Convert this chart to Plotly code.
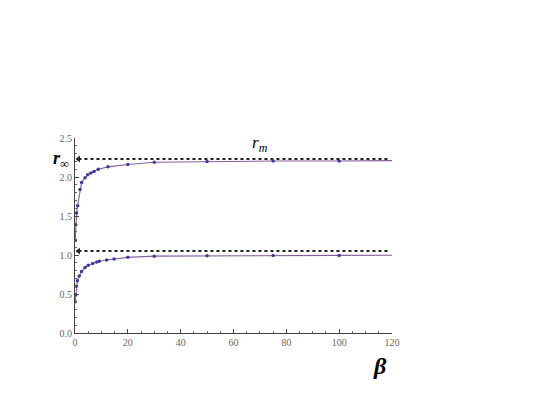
import plotly.graph_objects as go

# data
beta_upper = [0.1, 0.3, 0.6, 1, 1.9, 2.5, 3.8, 4.8, 6, 7.2, 8.8, 12.5, 20, 30, 50, 75, 100]
r_upper = [1.19, 1.39, 1.54, 1.63, 1.84, 1.93, 1.99, 2.03, 2.05, 2.07, 2.10, 2.13, 2.16, 2.19, 2.20, 2.205, 2.205]
beta_fit_upper = [0.1, 0.3, 0.6, 1, 1.9, 2.5, 3.8, 4.8, 6, 7.2, 8.8, 12.5, 20, 30, 50, 75, 100, 120]
r_fit_upper = [1.19, 1.39, 1.54, 1.63, 1.84, 1.93, 1.99, 2.03, 2.05, 2.07, 2.10, 2.13, 2.16, 2.19, 2.20, 2.205, 2.205, 2.21]

beta_lower = [0.1, 0.3, 0.5, 0.9, 1.6, 2.5, 3.8, 5, 6.7, 8.2, 9.2, 12, 14.8, 20, 30, 50, 75, 100]
r_lower = [0.40, 0.49, 0.60, 0.67, 0.73, 0.79, 0.84, 0.87, 0.89, 0.91, 0.92, 0.935, 0.95, 0.97, 0.985, 0.99, 0.995, 0.995]
beta_fit_lower = beta_lower + [120]
r_fit_lower = r_lower + [0.997]

r_inf_levels = [2.23, 1.05]
arrow_x = [1.3, 119]

x_ticks = [0, 20, 40, 60, 80, 100, 120]
y_ticks = [0.0, 0.5, 1.0, 1.5, 2.0, 2.5]
y_tick_text = ["0.0", "0.5", "1.0", "1.5", "2.0", "2.5"]

SERIF = "Liberation Serif, Times New Roman, serif"

fig = go.Figure()

for lvl in r_inf_levels:
    fig.add_trace(go.Scatter(x=arrow_x, y=[lvl, lvl], mode="lines",
                             line=dict(color="#222222", width=2, dash="dot"),
                             showlegend=False, hoverinfo="skip"))
    fig.add_trace(go.Scatter(x=[arrow_x[0]], y=[lvl], mode="markers",
                             marker=dict(symbol="triangle-left", size=6, color="#222222"),
                             showlegend=False, hoverinfo="skip"))

for bx, by in [(beta_fit_upper, r_fit_upper), (beta_fit_lower, r_fit_lower)]:
    fig.add_trace(go.Scatter(x=bx, y=by, mode="lines",
                             line=dict(color="#8a5c9c", width=1.1),
                             showlegend=False))
for bx, by in [(beta_upper, r_upper), (beta_lower, r_lower)]:
    fig.add_trace(go.Scatter(x=bx, y=by, mode="markers",
                             marker=dict(color="#3c3c9a", size=3.5),
                             showlegend=False))

fig.add_annotation(x=0, y=r_inf_levels[0], xref="x", yref="y", text="<b><i>r</i></b><sub>∞</sub>",
                   showarrow=False, xanchor="right", xshift=-4,
                   font=dict(family=SERIF, size=18, color="#000000"))
fig.add_annotation(x=70, y=2.42, xref="x", yref="y", text="<i>r</i><sub><i>m</i></sub>",
                   showarrow=False,
                   font=dict(family=SERIF, size=17, color="#000000"))
fig.add_annotation(x=115.5, y=0, xref="x", yref="paper", text="<b><i>β</i></b>",
                   showarrow=False, yshift=-48,
                   font=dict(family=SERIF, size=24, color="#000000"))

fig.update_xaxes(range=[0, 120], tickvals=x_ticks, ticks="inside", ticklen=4,
                 showgrid=False, zeroline=False, showline=True, linecolor="#444444", linewidth=1,
                 tickcolor="#444444",
                 minor=dict(dtick=5, ticks="inside", ticklen=2, tickcolor="#666666"),
                 tickfont=dict(family=SERIF, size=10, color="#666666"))
fig.update_yaxes(range=[0, 2.5], tickvals=y_ticks, ticktext=y_tick_text, ticks="inside", ticklen=4,
                 showgrid=False, zeroline=False, showline=True, linecolor="#444444", linewidth=1,
                 tickcolor="#444444",
                 minor=dict(dtick=0.1, ticks="inside", ticklen=2, tickcolor="#666666"),
                 tickfont=dict(family=SERIF, size=10, color="#666666"))

fig.update_layout(width=545, height=409, margin=dict(l=67, r=161, t=130, b=84),
                  plot_bgcolor="white", paper_bgcolor="white", showlegend=False)

fig.write_html("out.html")
